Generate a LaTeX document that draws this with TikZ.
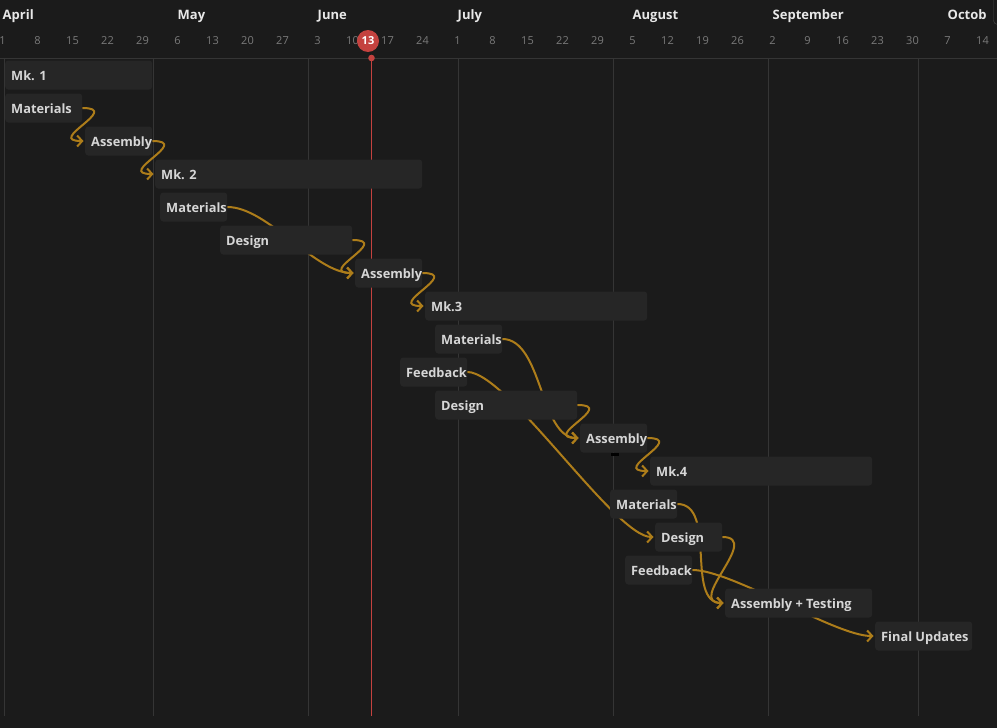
\documentclass[tikz,border=0pt]{standalone}
\usepackage{fontspec}
\setmainfont{Open Sans}
\usetikzlibrary{arrows.meta}
\pgfdeclarelayer{background}
\pgfsetlayers{background,main}
\definecolor{bgcol}{HTML}{1B1B1B}
\definecolor{barcol}{HTML}{262626}
\definecolor{gridcol}{HTML}{353535}
\definecolor{txtcol}{HTML}{D6D6D6}
\definecolor{monthcol}{HTML}{E8E8E8}
\definecolor{daycol}{HTML}{7A7A7A}
\definecolor{redcol}{HTML}{C4423F}
\definecolor{depcol}{HTML}{AD7D1A}
\definecolor{edgecol}{HTML}{4A4A4A}
\begin{document}
\begin{tikzpicture}[x=1pt,y=-1pt,line join=round,line cap=round,
		>={Straight Barb[length=5pt,width=11pt]},
		task/.style={fill=barcol,rounded corners=3pt,minimum height=29pt,inner sep=0pt,anchor=west},
		tasklabel/.style={text=txtcol,font=\bfseries\fontsize{12.8}{15}\selectfont,anchor=base west,inner sep=0pt},
		month/.style={text=monthcol,font=\bfseries\fontsize{13}{15}\selectfont,anchor=base west,inner sep=0pt},
		day/.style={text=daycol,font=\fontsize{11}{13}\selectfont,inner sep=0pt},
		dep/.style={draw=depcol,line width=2pt,->,shorten >=1.5pt}]
	\useasboundingbox (0,0) rectangle (997,728);
	% header
	\draw[gridcol] (0,58) -- (997,58);
	\foreach \m/\x in {April/2.5,May/177.5,June/317.5,July/457.5,August/632.5,September/772.5}
		\node[month] (\m) at (\x,19.5) {\m};
	\begin{scope}
		\clip (930,0) rectangle (986,30);
		\node[month] (October) at (947.5,19.5) {October};
	\end{scope}
	\draw[edgecol,rounded corners=4pt] (993.5,-3) -- (993.5,24.5) -- (1003,24.5);
	\foreach \d [count=\k from 0] in {1,8,15,22,29,6,13,20,27,3,10,17,24,1,8,15,22,29,5,12,19,26,2,9,16,23,30,7,14}
		\node[day] (d\k) at ({2.5+35*\k},41) {\d};
	\node[circle,fill=redcol,minimum size=22pt,inner sep=0pt,text=white,font=\bfseries\fontsize{11}{13}\selectfont] (today) at (368,41) {13};
	\node[circle,fill=redcol,minimum size=6.6pt,inner sep=0pt] (todaydot) at (371.5,58) {};
	% tasks
	\foreach \n/\x/\r/\w/\t in {mkone/5/0/147/Mk. 1,matone/5/1/77/Materials,asmone/85/2/67/Assembly,
			mktwo/155/3/267/Mk. 2,mattwo/160/4/67/Materials,destwo/220/5/132/Design,asmtwo/355/6/67/Assembly,
			mkthree/425/7/222/Mk.3,matthree/435/8/67/Materials,fbthree/400/9/67/Feedback,desthree/435/10/142/Design,asmthree/580/11/67/Assembly,
			mkfour/650/12/222/Mk.4,matfour/610/13/67/Materials,desfour/655/14/67/Design,fbfour/625/15/67/Feedback,
			asmfour/725/16/147/Assembly + Testing,final/875/17/97/Final Updates}{
		\node[task,minimum width=\w] (\n) at (\x,{75+33*\r}) {};
		\node[tasklabel] (\n-t) at ([xshift=6pt,yshift=-5.2pt]\n.west) {\t};
	}
	\fill[black] (611,453) rectangle (619,456);
	\begin{pgfonlayer}{background}
		\fill[bgcol] (0,0) rectangle (997,728);
		\foreach \x in {4,153,308,458,613,768,918}
			\draw[gridcol] (\x,58) -- (\x,716);
		\draw[redcol,line width=0.9pt] (todaydot.center) -- (371.5,716);
		\foreach \a/\b in {matone/asmone,asmone/mktwo,mattwo/asmtwo,destwo/asmtwo,asmtwo/mkthree,matthree/asmthree,
				desthree/asmthree,fbthree/desfour,asmthree/mkfour,matfour/asmfour,desfour/asmfour,fbfour/final}
			\draw[dep] (\a.east) .. controls +(40,0) and +(-40,0) .. (\b.west);
	\end{pgfonlayer}
\end{tikzpicture}
\end{document}
